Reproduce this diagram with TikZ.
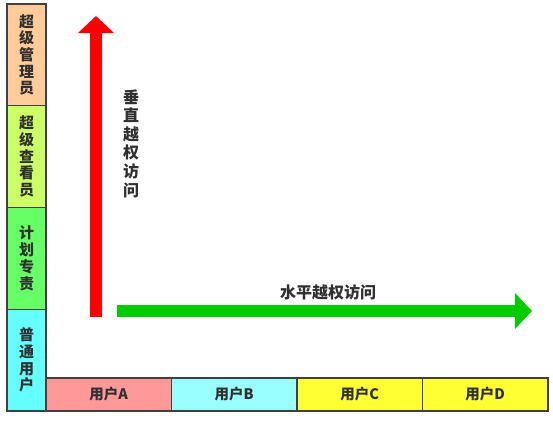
\documentclass[tikz,border=0pt]{standalone}
\usepackage{fontspec}
\setmainfont{Noto Sans CJK SC}
\usepackage{tikz}
\usetikzlibrary{positioning,arrows.meta}
\definecolor{cAdmin}{HTML}{FFCC99}
\definecolor{cViewer}{HTML}{CCFF66}
\definecolor{cPlan}{HTML}{66FF66}
\definecolor{cNormal}{HTML}{66FFFF}
\definecolor{cUserA}{HTML}{FF9999}
\definecolor{cUserB}{HTML}{99FFFF}
\definecolor{cUserC}{HTML}{FFFF33}
\definecolor{cRed}{HTML}{FF0000}
\definecolor{cGreen}{HTML}{00CC00}
\definecolor{cLine}{HTML}{404040}
\definecolor{cText}{HTML}{303030}

\begin{document}
\begin{tikzpicture}[x=1pt,y=-1pt,
        RoleCfg/.style={
            draw=cLine, line width=1.2pt, outer sep=0pt, inner sep=0pt,
            minimum width=39pt, minimum height=101.75pt, align=center,
            text=cText, font=\bfseries\fontsize{15}{16.7}\selectfont
        },
        UserCfg/.style={
            draw=cLine, line width=1.2pt, outer sep=0pt, inner sep=0pt,
            minimum width=125.5pt, minimum height=33pt,
            text=cText, font=\bfseries\fontsize{14.5}{16}\selectfont
        },
        ArrowCfg/.style={
            line width=12pt, -{Triangle[width=35pt,length=17pt]}
        }
    ]
    \useasboundingbox (0,0) rectangle (553,421);

    %roles
    \node[RoleCfg,fill=cAdmin,anchor=north west] (admin) at (7,4) {超\\级\\管\\理\\员};
    \node[RoleCfg,fill=cViewer,below=0pt of admin] (viewer) {超\\级\\查\\看\\员};
    \node[RoleCfg,fill=cPlan,below=0pt of viewer] (plan) {计\\划\\专\\责};
    \node[RoleCfg,fill=cNormal,below=0pt of plan] (normal) {普\\通\\用\\户};

    %users
    \node[UserCfg,fill=cUserA,anchor=south west] (userA) at (normal.south east) {用户A};
    \node[UserCfg,fill=cUserB,right=0pt of userA] (userB) {用户B};
    \node[UserCfg,fill=cUserC,right=0pt of userB] (userC) {用户C};
    \node[UserCfg,fill=cUserC,right=0pt of userC] (userD) {用户D};

    %arrows
    \coordinate (vfoot) at (96,317);
    \coordinate (vhead) at (96,16);
    \coordinate (hfoot) at (117,311);
    \coordinate (hhead) at (532,311);
    \draw[ArrowCfg,draw=cRed] (vfoot)--(vhead);
    \draw[ArrowCfg,draw=cGreen] (hfoot)--(hhead);

    %labels
    \node[align=center,font=\bfseries\fontsize{16}{18.6}\selectfont,text=cText] (vlabel) at (131,143.5) {垂\\直\\越\\权\\访\\问};
    \node[font=\bfseries\fontsize{16}{18}\selectfont,text=cText] (hlabel) at (328,292) {水平越权访问};

\end{tikzpicture}
\end{document}
